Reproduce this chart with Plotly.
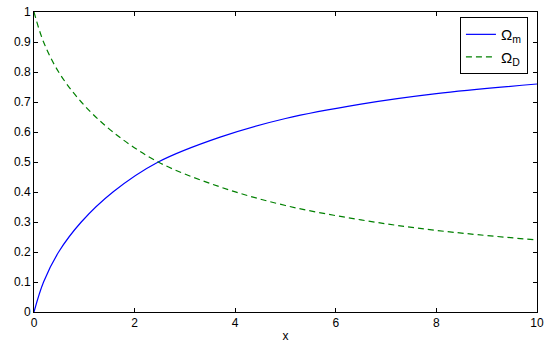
import plotly.graph_objects as go

# values
x = [0, 0.19, 0.49, 0.94, 1.57, 2.47, 3.7, 5, 6.5, 8, 10]
omega_m = [0, 0.100, 0.200, 0.300, 0.400, 0.500, 0.583, 0.645, 0.693, 0.728, 0.760]
omega_d = [1, 0.900, 0.800, 0.700, 0.600, 0.500, 0.417, 0.355, 0.307, 0.272, 0.240]

x_ticks = [0, 2, 4, 6, 8, 10]
y_ticks = [0, 0.1, 0.2, 0.3, 0.4, 0.5, 0.6, 0.7, 0.8, 0.9, 1]
y_labels = ['0', '0.1', '0.2', '0.3', '0.4', '0.5', '0.6', '0.7', '0.8', '0.9', '1']

font = dict(family='Liberation Sans, Arial', size=12, color='black')

fig = go.Figure()
fig.add_trace(go.Scatter(x=x, y=omega_m, mode='lines', name='Ω<sub>m</sub>',
                         line=dict(color='#0000ff', width=1.2, shape='spline')))
fig.add_trace(go.Scatter(x=x, y=omega_d, mode='lines', name='Ω<sub>D</sub>',
                         line=dict(color='#008000', width=1.2, shape='spline',
                                   dash='6px,4px')))

axis_style = dict(showgrid=False, zeroline=False, showline=True, mirror='allticks',
                  linecolor='black', linewidth=1, ticks='inside', ticklen=4,
                  tickcolor='black', tickfont=font, automargin=False)

fig.update_xaxes(range=[0, 10], tickvals=x_ticks,
                 title=dict(text='x', standoff=2, font=font), **axis_style)
fig.update_yaxes(range=[0, 1], tickvals=y_ticks, ticktext=y_labels, **axis_style)

fig.update_layout(
    width=550, height=348,
    margin=dict(l=34, r=13, t=12, b=36),
    plot_bgcolor='white', paper_bgcolor='white',
    showlegend=True,
    legend=dict(x=0.982, y=0.983, xanchor='right', yanchor='top',
                bordercolor='black', borderwidth=1, bgcolor='white',
                font=dict(family='Liberation Sans, Arial', size=15, color='black'),
                tracegroupgap=0),
)

# the page body has a default 8px margin; drop it so the figure sits at the corner
fig.write_html("out.html", config={'displayModeBar': False},
               post_script="document.body.style.margin='0px';")
